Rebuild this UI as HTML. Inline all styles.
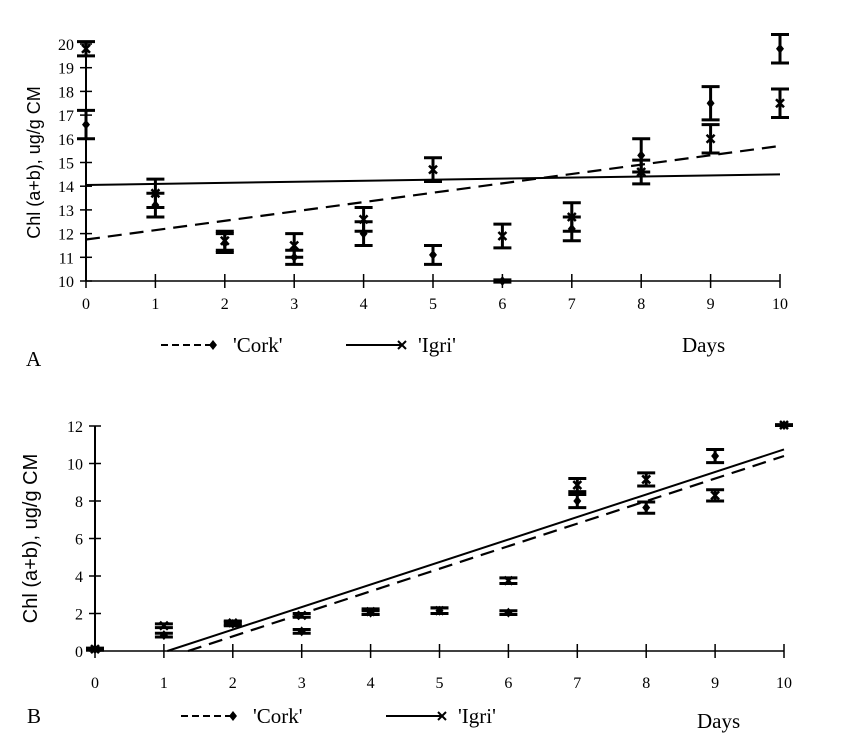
<!DOCTYPE html>
<html><head><meta charset="utf-8"><style>
body{margin:0;background:#fff;}
svg{display:block;font-family:"Liberation Serif",serif;}
</style></head><body>
<svg id="svg" width="863" height="749"></svg>
<script>
const days=[0,1,2,3,4,5,6,7,8,9,10];
const tickA=[10,11,12,13,14,15,16,17,18,19,20];
const corkA=[16.6,13.2,11.6,11.0,12.0,11.1,10.0,12.2,15.3,17.5,19.8];
const corkAErr=[0.6,0.5,0.4,0.3,0.5,0.4,0.05,0.5,0.7,0.7,0.6];
const igriA=[19.8,13.7,11.7,11.5,12.6,14.7,11.9,12.7,14.6,16.0,17.5];
const igriAErr=[0.3,0.6,0.4,0.5,0.5,0.5,0.5,0.6,0.5,0.6,0.6];
const corkATrend=[11.75,15.7];
const igriATrend=[14.05,14.5];
const tickB=[0,2,4,6,8,10,12];
const corkB=[0.1,0.85,1.45,1.05,2.05,2.15,2.05,8.0,7.65,10.4,12.05];
const corkBErr=[0.05,0.1,0.1,0.1,0.1,0.15,0.1,0.35,0.3,0.35,0.02];
const igriB=[0.1,1.35,1.5,1.9,2.1,2.15,3.75,8.85,9.15,8.3,12.05];
const igriBErr=[0.05,0.1,0.1,0.1,0.15,0.15,0.15,0.35,0.35,0.3,0.02];
const corkBTrend=[[1.35,0],[10,10.4]];
const igriBTrend=[[1.05,0],[10,10.75]];

const NS="http://www.w3.org/2000/svg";
const svg=document.getElementById('svg');
function mk(t,a,txt,parent){const e=document.createElementNS(NS,t);for(const k in a)e.setAttribute(k,a[k]);if(txt!==undefined)e.textContent=txt;(parent||svg).appendChild(e);return e;}

function chart(P){
  const g=mk('g',{});
  
  
  const X=d=>P.x0+(P.x1-P.x0)*d/10;
  const Y=v=>P.yb+(P.yt-P.yb)*(v-P.ymin)/(P.ymax-P.ymin);
  let e=mk('line',{x1:X(0),y1:Y(P.ymin),x2:X(0),y2:Y(P.ymax),stroke:'#000','stroke-width':2},undefined,g);
  
  e=mk('line',{x1:X(0),y1:Y(P.ymin),x2:X(10),y2:Y(P.ymin),stroke:'#000','stroke-width':1.5},undefined,g);
  
  P.ticks.forEach(t=>{
    mk('line',{x1:X(0)-6,x2:X(0)+6,y1:Y(t),y2:Y(t),stroke:'#000','stroke-width':1.5},undefined,g);
    e=mk('text',{x:X(0)-12,y:Y(t)+6,'text-anchor':'end','font-size':P.fs},String(t),g);
    
  });
  days.forEach(d=>{
    mk('line',{x1:X(d),x2:X(d),y1:Y(P.ymin)-7,y2:Y(P.ymin)+7,stroke:'#000','stroke-width':1.5},undefined,g);
    e=mk('text',{x:X(d),y:Y(P.ymin)+P.xlo,'text-anchor':'middle','font-size':P.fs},String(d),g);
    
  });
  function series(vals,errs,kind){
    vals.forEach((v,i)=>{
      const x=X(days[i]),y=Y(v),lo=Y(v-errs[i]),hi=Y(v+errs[i]);
      const s=mk('g',{},undefined,g);
      
      
      mk('line',{x1:x,x2:x,y1:lo,y2:hi,stroke:'#000','stroke-width':3},undefined,s);
      mk('line',{x1:x-9,x2:x+9,y1:lo,y2:lo,stroke:'#000','stroke-width':3},undefined,s);
      mk('line',{x1:x-9,x2:x+9,y1:hi,y2:hi,stroke:'#000','stroke-width':3},undefined,s);
      if(kind==='cork') mk('path',{d:`M${x} ${y-5}L${x+4} ${y}L${x} ${y+5}L${x-4} ${y}Z`,fill:'#000'},undefined,s);
      else mk('path',{d:`M${x-4} ${y-4}L${x+4} ${y+4}M${x+4} ${y-4}L${x-4} ${y+4}`,stroke:'#000','stroke-width':2.5},undefined,s);
    });
  }
  series(P.cork,P.corkErr,'cork');
  series(P.igri,P.igriErr,'igri');
  e=mk('line',{x1:X(P.cT[0][0]),y1:Y(P.cT[0][1]),x2:X(P.cT[1][0]),y2:Y(P.cT[1][1]),stroke:'#000','stroke-width':2.2,'stroke-dasharray':'14,8'},undefined,g);
  
  e=mk('line',{x1:X(P.iT[0][0]),y1:Y(P.iT[0][1]),x2:X(P.iT[1][0]),y2:Y(P.iT[1][1]),stroke:'#000','stroke-width':2},undefined,g);
  
  e=mk('text',{transform:`translate(${P.ytx},${(Y(P.ymin)+Y(P.ymax))/2}) rotate(-90)`,'text-anchor':'middle','font-size':P.yfs,'font-family':'Liberation Sans, sans-serif'},'Chl (a+b), ug/g CM',g);
  
  // legend
  const ly=P.ly;
  const lc=mk('g',{},undefined,g);
  mk('line',{x1:P.lx,x2:P.lx+50,y1:ly,y2:ly,stroke:'#000','stroke-width':2,'stroke-dasharray':'7,4'},undefined,lc);
  mk('path',{d:`M${P.lx+52} ${ly-5}L${P.lx+56} ${ly}L${P.lx+52} ${ly+5}L${P.lx+48} ${ly}Z`},undefined,lc);
  mk('text',{x:P.lx+72,y:ly+7,'font-size':21},"'Cork'",lc);
  const li=mk('g',{},undefined,g);
  const ix=P.lx+P.igx;
  mk('line',{x1:ix,x2:ix+55,y1:ly,y2:ly,stroke:'#000','stroke-width':2},undefined,li);
  mk('path',{d:`M${ix+52} ${ly-4}L${ix+60} ${ly+4}M${ix+60} ${ly-4}L${ix+52} ${ly+4}`,stroke:'#000','stroke-width':2},undefined,li);
  mk('text',{x:ix+72,y:ly+7,'font-size':21},"'Igri'",li);
  e=mk('text',{x:P.dx,y:P.dy,'font-size':21},'Days',g);
  
  e=mk('text',{x:P.px,y:P.py,'font-size':21},P.panel,g);
  
}
chart({name:'chart-a',x0:86,x1:780,yb:281,yt:44,ymin:10,ymax:20,ticks:tickA,fs:16,xlo:28,
  cork:corkA,corkErr:corkAErr,igri:igriA,igriErr:igriAErr,
  cT:[[0,corkATrend[0]],[10,corkATrend[1]]],iT:[[0,igriATrend[0]],[10,igriATrend[1]]],
  ytx:40,yfs:18,lx:161,igx:185,ly:345,dx:682,dy:352,px:26,py:366,panel:'A'});
chart({name:'chart-b',x0:95,x1:784,yb:651,yt:426,ymin:0,ymax:12,ticks:tickB,fs:16,xlo:37,
  cork:corkB,corkErr:corkBErr,igri:igriB,igriErr:igriBErr,
  cT:corkBTrend,iT:igriBTrend,
  ytx:37,yfs:20,lx:181,igx:205,ly:716,dx:697,dy:728,px:27,py:723,panel:'B'});
</script>
</body></html>
